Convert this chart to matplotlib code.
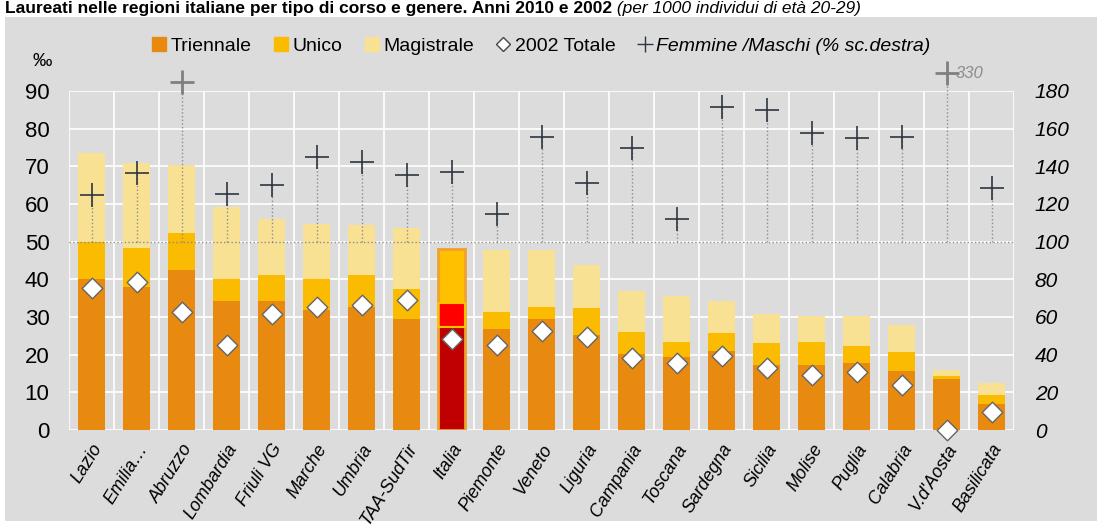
import numpy as np
import matplotlib
matplotlib.use("Agg")
import matplotlib.pyplot as plt
from matplotlib.patches import Rectangle
from matplotlib.lines import Line2D
from matplotlib.text import Annotation

plt.rcParams['font.family'] = ['Liberation Sans', 'DejaVu Sans']

regioni = ['Lazio', 'Emilia…', 'Abruzzo', 'Lombardia', 'Friuli VG', 'Marche', 'Umbria',
           'TAA-SudTir', 'Italia', 'Piemonte', 'Veneto', 'Liguria', 'Campania', 'Toscana',
           'Sardegna', 'Sicilia', 'Molise', 'Puglia', 'Calabria', "V.d'Aosta", 'Basilicata']
# cumulative tops (per 1000)
top_triennale = [40.1, 38.0, 42.5, 34.2, 34.2, 31.9, 32.6, 29.5, 27.3, 26.8, 29.5,
                 25.2, 20.1, 19.3, 21.0, 17.3, 17.3, 17.7, 15.6, 13.5, 6.9]
top_unico = [50.0, 48.2, 52.4, 40.1, 41.1, 40.1, 41.1, 37.4, 33.6, 31.2, 32.7,
             32.3, 26.1, 23.4, 25.7, 23.0, 23.4, 22.4, 20.6, 14.4, 9.3]
top_magistrale = [73.5, 70.9, 70.3, 59.1, 56.0, 54.7, 54.3, 53.7, 48.0, 47.9, 47.9,
                  43.8, 37.0, 35.7, 34.2, 30.8, 30.3, 30.3, 27.8, 15.9, 12.4]
totale_2002 = [37.6, 39.2, 31.4, 22.6, 30.8, 32.6, 33.2, 34.5, 24.2, 22.6, 26.3,
               24.6, 19.2, 17.9, 19.7, 16.4, 14.6, 15.4, 11.9, 0.0, 4.7]
femmine_maschi = [124.8, 136.5, 185.0, 125.3, 130.0, 144.8, 142.5, 135.4, 137.0, 114.7, 155.7,
                  131.0, 149.6, 112.0, 171.7, 170.0, 157.5, 154.8, 155.4, 330.0, 128.3]

triennale = np.array(top_triennale)
unico = np.array(top_unico) - triennale
magistrale = np.array(top_magistrale) - np.array(top_unico)

c_tri, c_uni, c_mag = '#E88A10', '#FBBB00', '#F9E194'
bg = '#DCDCDC'

fig = plt.figure(figsize=(11.02, 5.27), dpi=100)
fig.patches.append(Rectangle((5 / 1102, 1 - 521 / 527), 1092 / 1102, 504 / 527,
                             transform=fig.transFigure, facecolor=bg, edgecolor='none', zorder=-5))

t1 = fig.text(5 / 1102, 1 - 1 / 527,
              'Laureati nelle regioni italiane per tipo di corso e genere. Anni 2010 e 2002',
              fontsize=12.5, fontweight='bold', va='top', ha='left')
fig.add_artist(Annotation(' (per 1000 individui di età 20-29)', xy=(1, 0), xycoords=t1,
                          va='bottom', ha='left', fontsize=12.5, style='italic'))

ax = fig.add_axes([69 / 1102, 1 - 430 / 527, 945 / 1102, 339 / 527])
ax.set_facecolor(bg)
x = np.arange(len(regioni))
w = 0.62

cols_t = [c_tri] * len(x)
cols_u = [c_uni] * len(x)
cols_m = [c_mag] * len(x)
i_it = regioni.index('Italia')
cols_t[i_it], cols_u[i_it], cols_m[i_it] = '#C00000', '#FF0000', '#FFC000'

ax.bar(x, triennale, w, color=cols_t, zorder=2)
ax.bar(x, unico, w, bottom=triennale, color=cols_u, zorder=2)
ax.bar(x, magistrale, w, bottom=top_unico, color=cols_m, zorder=2)
ax.bar(x[i_it], top_magistrale[i_it], w, fill=False, edgecolor='#F0A030', linewidth=2, zorder=3)
ax.bar(x[i_it], unico[i_it], w, bottom=triennale[i_it], fill=False, edgecolor='#FFC000',
       linewidth=1.5, zorder=3)

ax.set_xlim(-0.5, len(x) - 0.5)
ax.set_ylim(0, 90)
ax.set_yticks(range(0, 91, 10))
ax.set_xticks(x)
ax.set_xticklabels(regioni, rotation=58, ha='right', rotation_mode='anchor', fontsize=13,
                   style='italic')
ax.set_xticks(np.arange(-0.5, len(x), 1), minor=True)
ax.grid(True, which='minor', axis='x', color='white', linewidth=1.2, zorder=1)
ax.grid(True, which='major', axis='y', color='white', linewidth=1.2, zorder=1)
ax.set_axisbelow(True)
ax.tick_params(axis='both', which='both', length=0)
ax.tick_params(axis='y', labelsize=16, pad=14)
ax.tick_params(axis='x', pad=8)
for s in ax.spines.values():
    s.set_visible(False)
fig.text(42 / 1102, 1 - 62 / 527, '‰', fontsize=14, ha='center', va='center')

ax2 = ax.twinx()
ax2.set_ylim(0, 180)
ax2.set_yticks(range(0, 181, 20))
ax2.tick_params(axis='y', length=0, labelsize=15, pad=15)
for lab in ax2.get_yticklabels():
    lab.set_style('italic')
for s in ax2.spines.values():
    s.set_visible(False)

ax2.axhline(100, color='#8C8C8C', linestyle=':', linewidth=1, zorder=2)
fm = np.array(femmine_maschi)
shown = np.where(fm > 180, np.where(fm > 300, 189.5, fm), fm)
ax2.vlines(x, 100, shown, colors='#8C8C8C', linestyles=':', linewidth=1, clip_on=False)
# diamonds on ax2 scale so they sit above the drop lines
ax2.scatter(x, np.array(totale_2002) * 2, marker='D', s=110, facecolor='white',
            edgecolor='#666666', linewidth=1, zorder=5, clip_on=False)
inside = fm <= 180
ax2.scatter(x[inside], shown[inside], marker='+', s=300, color='#2E3640', linewidth=1.2, zorder=6)
ax2.scatter(x[~inside], shown[~inside], marker='+', s=300, color='#7F7F7F', linewidth=2,
            zorder=6, clip_on=False)
i_va = regioni.index("V.d'Aosta")
ax2.text(x[i_va] + 0.2, shown[i_va], '%d' % fm[i_va], color='#8C8C8C', fontsize=12,
         style='italic', va='center', ha='left')

handles = [
    Line2D([], [], marker='s', linestyle='', color=c_tri, markersize=10),
    Line2D([], [], marker='s', linestyle='', color=c_uni, markersize=10),
    Line2D([], [], marker='s', linestyle='', color=c_mag, markersize=10),
    Line2D([], [], marker='D', linestyle='', markerfacecolor='white', markeredgecolor='#444444',
           markersize=7),
    Line2D([], [], marker='+', linestyle='', color='#2E3640', markersize=12),
]
labels = ['Triennale', 'Unico', 'Magistrale', '2002 Totale', 'Femmine /Maschi (% sc.destra)']
leg = fig.legend(handles, labels, ncol=5, loc='center', bbox_to_anchor=(540 / 1102, 1 - 46 / 527),
                 frameon=False, fontsize=14, handletextpad=0.1, columnspacing=1.0,
                 handlelength=1.0)
leg.get_texts()[-1].set_style('italic')

fig.savefig('out.png', dpi=100)
